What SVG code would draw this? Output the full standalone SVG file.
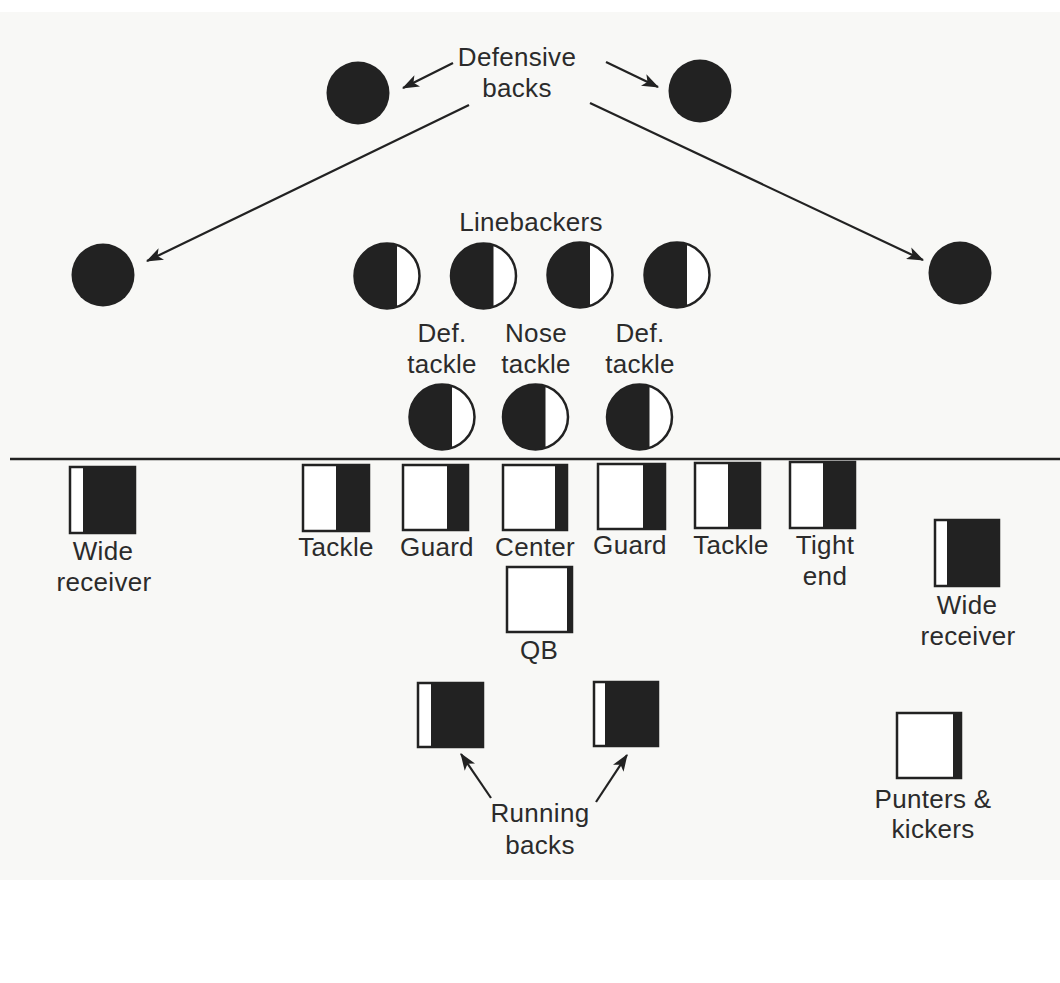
<svg xmlns="http://www.w3.org/2000/svg" xmlns:xlink="http://www.w3.org/1999/xlink" width="1060" height="983" viewBox="0 0 1060 983">
<style>
text{font-family:"Liberation Sans",Arial,sans-serif;font-size:26px;letter-spacing:0.3px;fill:#2b2b2b;text-anchor:middle}
.dark{fill:#222}
.box{fill:#fff;stroke:#222;stroke-width:2.5}
.ring{fill:#fff;stroke:#222;stroke-width:2.5}
.conn{stroke:#222;stroke-width:2.2;fill:none}
</style>
<defs>
<marker id="ah" viewBox="0 0 16 12" refX="15" refY="6" markerWidth="17" markerHeight="13" markerUnits="userSpaceOnUse" orient="auto">
<path d="M0,0 L16,6 L0,12 L4,6 z" fill="#222"/>
</marker>
<g id="half">
<circle class="ring" cx="0" cy="0" r="32.5"/>
<path class="dark" d="M10,-30.9 A32.5,32.5 0 1 0 10,30.9 Z"/>
</g>
</defs>
<rect x="0" y="0" width="1060" height="983" fill="#ffffff"/>
<rect x="0" y="12" width="1060" height="868" fill="#f8f8f6"/>
<line x1="10" y1="459" x2="1060" y2="459" stroke="#222" stroke-width="2.5"/>

<g id="db-label"><text x="517" y="66">Defensive</text><text x="517" y="97">backs</text></g>
<g id="db1"><circle class="dark" cx="358" cy="93" r="31.5"/></g>
<g id="db2"><circle class="dark" cx="700" cy="91" r="31.5"/></g>
<g id="db3"><circle class="dark" cx="103" cy="275" r="31.5"/></g>
<g id="db4"><circle class="dark" cx="960" cy="273" r="31.5"/></g>

<g id="lb-label"><text x="531" y="231">Linebackers</text></g>
<g id="lb1"><use xlink:href="#half" x="387" y="276"/></g>
<g id="lb2"><use xlink:href="#half" x="483.5" y="276"/></g>
<g id="lb3"><use xlink:href="#half" x="580" y="275"/></g>
<g id="lb4"><use xlink:href="#half" x="677" y="275"/></g>

<g id="dt1"><text x="442" y="342">Def.</text><text x="442" y="373">tackle</text><use xlink:href="#half" x="442" y="417"/></g>
<g id="nt"><text x="536" y="342">Nose</text><text x="536" y="373">tackle</text><use xlink:href="#half" x="535.5" y="417"/></g>
<g id="dt2"><text x="640" y="342">Def.</text><text x="640" y="373">tackle</text><use xlink:href="#half" x="639.5" y="417"/></g>

<g id="wr1"><rect class="box" x="70" y="467" width="65" height="66"/><rect class="dark" x="83" y="467" width="52" height="66"/><text x="103" y="560">Wide</text><text x="104" y="591">receiver</text></g>
<g id="lt"><rect class="box" x="303" y="465" width="66" height="66"/><rect class="dark" x="336" y="465" width="33" height="66"/><text x="336" y="556">Tackle</text></g>
<g id="lg"><rect class="box" x="403" y="465" width="65" height="65"/><rect class="dark" x="447" y="465" width="21" height="65"/><text x="437" y="556">Guard</text></g>
<g id="c"><rect class="box" x="503" y="465" width="64" height="65"/><rect class="dark" x="555" y="465" width="12" height="65"/><text x="535" y="556">Center</text></g>
<g id="rg"><rect class="box" x="598" y="464" width="67" height="65"/><rect class="dark" x="643" y="464" width="22" height="65"/><text x="630" y="554">Guard</text></g>
<g id="rt"><rect class="box" x="695" y="463" width="65" height="65"/><rect class="dark" x="728" y="463" width="32" height="65"/><text x="731" y="554">Tackle</text></g>
<g id="te"><rect class="box" x="790" y="462" width="65" height="66"/><rect class="dark" x="823" y="462" width="32" height="66"/><text x="825" y="554">Tight</text><text x="825" y="585">end</text></g>
<g id="wr2"><rect class="box" x="935" y="520" width="64" height="66"/><rect class="dark" x="947" y="520" width="52" height="66"/><text x="967" y="614">Wide</text><text x="968" y="645">receiver</text></g>
<g id="qb"><rect class="box" x="507" y="567" width="65" height="65"/><rect class="dark" x="567" y="567" width="5" height="65"/><text x="539" y="659">QB</text></g>
<g id="rb1"><rect class="box" x="418" y="683" width="65" height="64"/><rect class="dark" x="431" y="683" width="52" height="64"/></g>
<g id="rb2"><rect class="box" x="594" y="682" width="64" height="64"/><rect class="dark" x="605" y="682" width="53" height="64"/></g>
<g id="rb-label"><text x="540" y="822">Running</text><text x="540" y="854">backs</text></g>
<g id="pk"><rect class="box" x="897" y="713" width="64" height="65"/><rect class="dark" x="953" y="713" width="8" height="65"/><text x="933" y="808">Punters &amp;</text><text x="933" y="838">kickers</text></g>

<g id="connectors">
<line class="conn" x1="453" y1="63" x2="403" y2="88" marker-end="url(#ah)"/>
<line class="conn" x1="606" y1="62" x2="658" y2="87" marker-end="url(#ah)"/>
<line class="conn" x1="469" y1="105" x2="147" y2="261" marker-end="url(#ah)"/>
<line class="conn" x1="590" y1="103" x2="923" y2="260" marker-end="url(#ah)"/>
<line class="conn" x1="491" y1="798" x2="461" y2="754" marker-end="url(#ah)"/>
<line class="conn" x1="596" y1="802" x2="627" y2="755" marker-end="url(#ah)"/>
</g>
</svg>
